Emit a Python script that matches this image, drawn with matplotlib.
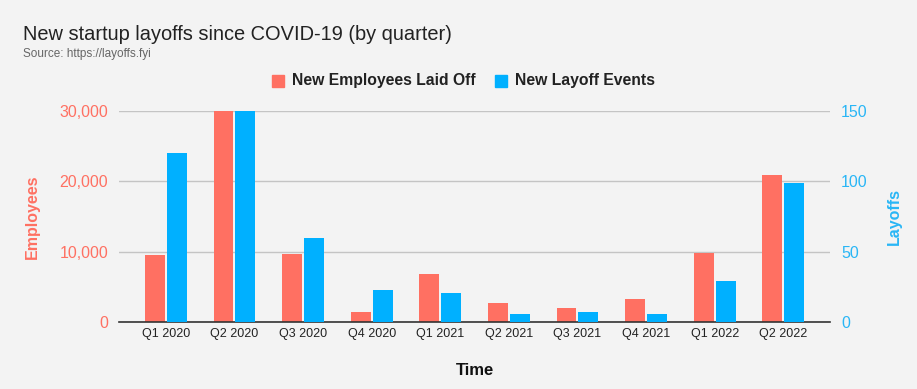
import matplotlib.pyplot as plt
import numpy as np

plt.rcParams['font.family'] = ['Liberation Sans', 'DejaVu Sans']

quarters = ['Q1 2020', 'Q2 2020', 'Q3 2020', 'Q4 2020', 'Q1 2021',
            'Q2 2021', 'Q3 2021', 'Q4 2021', 'Q1 2022', 'Q2 2022']
employees = [9500, 30000, 9700, 1400, 6800, 2700, 2000, 3300, 9800, 20900]
layoffs = [120, 150, 60, 23, 21, 6, 7, 6, 29, 99]

red = '#ff7062'
blue = '#00b0ff'
bg = '#f3f3f3'

fig = plt.figure(figsize=(9.17, 3.89), dpi=100, facecolor=bg)
ax = fig.add_axes([0.130, 0.172, 0.775, 0.543], facecolor=bg)
ax2 = ax.twinx()

x = np.arange(len(quarters))
w = 0.29
ax.bar(x - 0.16, employees, w, color=red, zorder=3)
ax2.bar(x + 0.16, layoffs, w, color=blue, zorder=3)

ax.set_xlim(-0.68, 9.68)
ax.set_ylim(0, 30000)
ax2.set_ylim(0, 150)
ax.set_yticks([0, 10000, 20000, 30000])
ax.set_yticklabels(['0', '10,000', '20,000', '30,000'])
ax2.set_yticks([0, 50, 100, 150])

ax.grid(axis='y', color='#c4c4c4', linewidth=1, zorder=0)
ax.set_axisbelow(True)
for a in (ax, ax2):
    for s in a.spines.values():
        s.set_visible(False)
ax.spines['bottom'].set_visible(True)
ax.spines['bottom'].set_color('#333333')
ax.spines['bottom'].set_linewidth(1.2)
ax.spines['bottom'].set_zorder(5)

ax.set_xticks(x)
ax.set_xticklabels(quarters, fontsize=9, color='#222222')
ax.tick_params(axis='x', length=0, pad=4)
ax.tick_params(axis='y', length=0, pad=8, labelsize=11.5, labelcolor=red)
ax2.tick_params(axis='y', length=0, pad=8, labelsize=11.5, labelcolor='#29b6f6')

ax.set_ylabel('Employees', fontsize=11.5, fontweight='bold', color=red, labelpad=14)
ax2.set_ylabel('Layoffs', fontsize=11.5, fontweight='bold', color='#29b6f6', labelpad=14)
ax.set_xlabel('Time', fontsize=12, fontweight='bold', color='#111111', labelpad=17)

fig.text(0.025, 0.912, 'New startup layoffs since COVID-19 (by quarter)',
         fontsize=14.4, color='#222222', va='center')
fig.text(0.025, 0.860, 'Source: https://layoffs.fyi', fontsize=8.5, color='#666666', va='center')

# legend
fig.patches.append(plt.Rectangle((272 / 917, 1 - 87 / 389), 12 / 917, 12 / 389,
                                 transform=fig.transFigure, color=red))
fig.text(292 / 917, 1 - 81 / 389, 'New Employees Laid Off', fontsize=11.3,
         fontweight='bold', color='#222222', va='center')
fig.patches.append(plt.Rectangle((495 / 917, 1 - 87 / 389), 12 / 917, 12 / 389,
                                 transform=fig.transFigure, color=blue))
fig.text(515 / 917, 1 - 81 / 389, 'New Layoff Events', fontsize=11.3,
         fontweight='bold', color='#222222', va='center')

fig.savefig('out.png', dpi=100, facecolor=bg)
